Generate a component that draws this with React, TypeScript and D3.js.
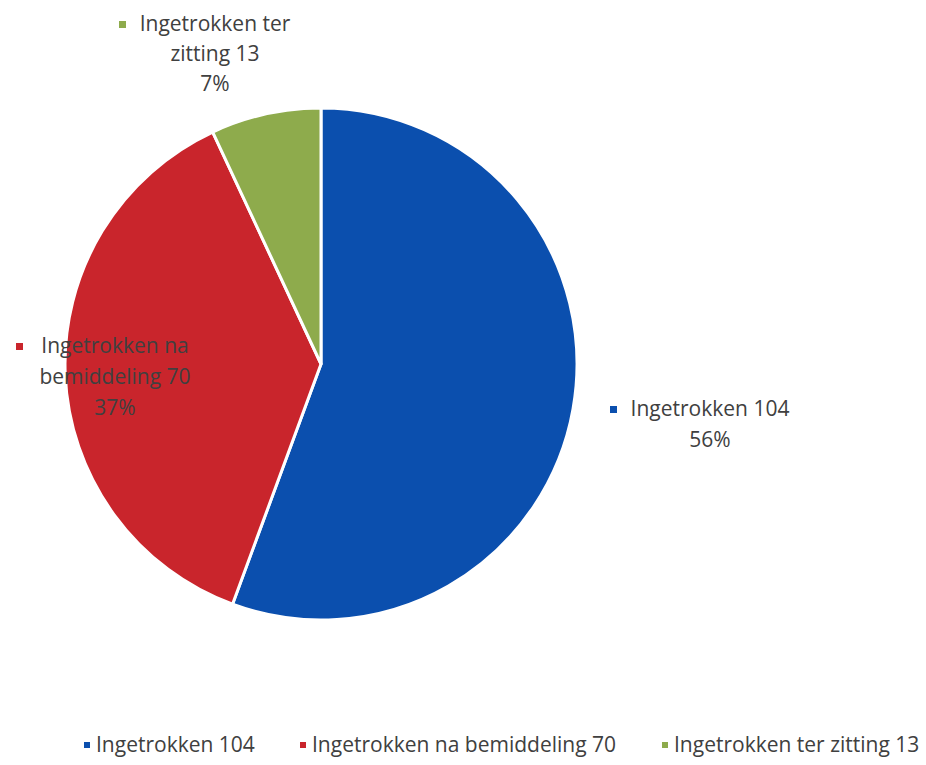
import React from "react";
import * as d3 from "d3";

const categories = ["Ingetrokken 104", "Ingetrokken na bemiddeling 70", "Ingetrokken ter zitting 13"];
const values = [104, 70, 13];
const colors = ["#0B4FAE", "#C9252C", "#8EAB4C"];
// data-label lines (wrapped like the original)
const labelLines = [["Ingetrokken 104", "56%"], ["Ingetrokken na", "bemiddeling 70", "37%"], ["Ingetrokken ter", "zitting 13", "7%"]];

const W = 926, H = 765;
const cx = 321, cy = 364, R = 256;
const FONT = "'Open Sans', 'Liberation Sans', sans-serif";

export default function App() {
  const pie = d3.pie<number>().sort(null).value((d) => d)(values);
  const arc = d3.arc<d3.PieArcDatum<number>>().innerRadius(0).outerRadius(R);

  const labelPos = [
    { x: 710, y: 410, lh: 31, mx: 610 },
    { x: 115, y: 347, lh: 31, mx: 16 },
    { x: 215, y: 25, lh: 30, mx: 119 },
  ];

  const legendX = [84, 300, 662];
  const legendY = 746;

  return (
    <div style={{ position: "absolute", left: 0, top: 0, width: W, height: H, background: "#fff" }}>
      <svg width={W} height={H} style={{ display: "block" }}>
        <rect width={W} height={H} fill="#fff" />
        <g transform={`translate(${cx},${cy})`}>
          {pie.map((p, i) => (
            <path key={i} d={arc(p) || ""} fill={colors[i]} stroke="#fff" strokeWidth={3} strokeLinejoin="round" />
          ))}
        </g>
        {labelLines.map((lines, i) => {
          const lp = labelPos[i];
          return (
            <g key={i} fontFamily={FONT} fontSize={21} fill="#404040" textAnchor="middle">
              {lines.map((t, j) => (
                <text key={j} x={lp.x} y={lp.y + j * lp.lh} dominantBaseline="middle">
                  {t}
                </text>
              ))}
              <rect x={lp.mx} y={lp.y - 4} width={7} height={7} fill={colors[i]} />
            </g>
          );
        })}
        <g fontFamily={FONT} fontSize={21} fill="#404040">
          {categories.map((c, i) => (
            <g key={i}>
              <rect x={legendX[i]} y={legendY - 4} width={6} height={6} fill={colors[i]} />
              <text x={legendX[i] + 12} y={legendY} dominantBaseline="middle">
                {c}
              </text>
            </g>
          ))}
        </g>
      </svg>
    </div>
  );
}
